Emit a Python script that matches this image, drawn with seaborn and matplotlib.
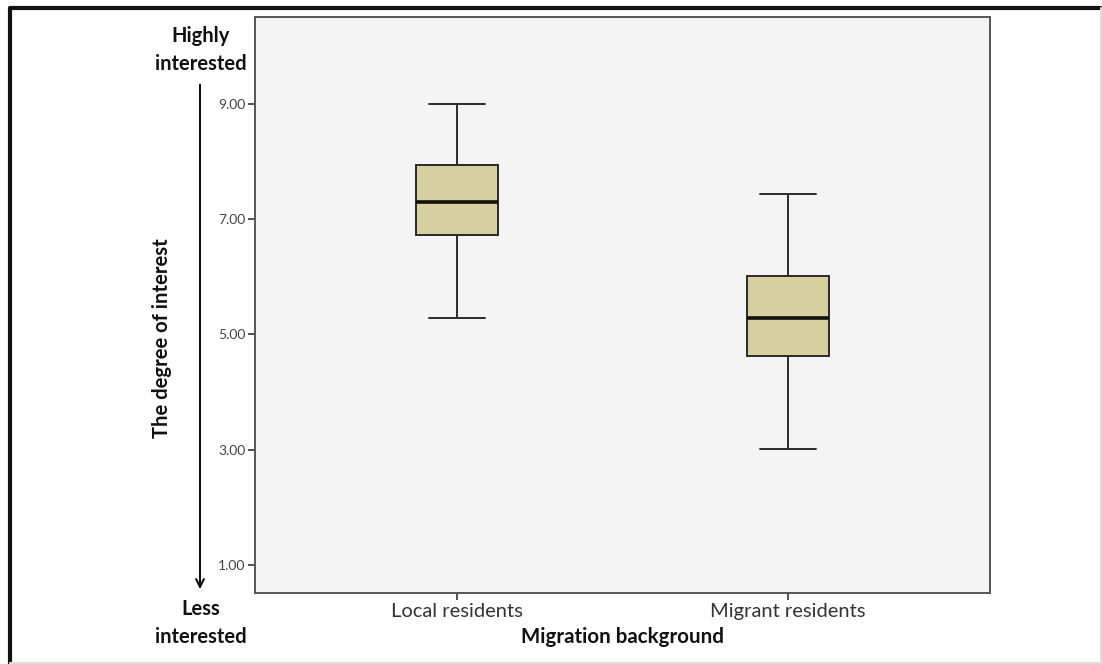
import matplotlib
matplotlib.use("Agg")
import matplotlib.pyplot as plt
import seaborn as sns
import pandas as pd
from matplotlib.lines import Line2D

# Five-number summaries (min, Q1, median, Q3, max)
groups = ["Local residents", "Migrant residents"]
local_stats = [5.28, 6.73, 7.30, 7.94, 9.00]
migrant_stats = [3.01, 4.62, 5.29, 6.01, 7.44]
y_ticks = [1, 3, 5, 7, 9]

sns.set_theme(style="white")
plt.rcParams['font.family'] = ['Lato', 'DejaVu Sans']

df = pd.DataFrame({
    "group": [groups[0]] * len(local_stats) + [groups[1]] * len(migrant_stats),
    "value": local_stats + migrant_stats,
})

fig = plt.figure(figsize=(11.02, 6.64), dpi=100)
fig.patch.set_facecolor("white")
ax = fig.add_axes([0.2314, 0.1069, 0.6670, 0.8675])
ax.set_facecolor("#F4F4F4")

sns.boxplot(data=df, x="group", y="value", order=groups, ax=ax,
            whis=(0, 100), width=0.25, color="#D6CF9F", saturation=1,
            linecolor="#2a2a2a", linewidth=1.4,
            medianprops=dict(color="#111111", linewidth=2.6),
            capwidths=0.17)

ax.set_ylim(0.51, 10.51)
ax.set_xlim(-0.61, 1.61)
ax.set_yticks(y_ticks)
ax.set_yticklabels([f"{v:.2f}" for v in y_ticks], fontsize=10, color="#444444")
ax.set_xticks([0, 1])
ax.set_xticklabels(groups, fontsize=14.5, color="#333333")
ax.tick_params(axis="both", which="major", direction="out", length=5, width=1.2,
               color="#333333", left=True, bottom=True, pad=2)
ax.set_xlabel("Migration background", fontsize=14.8, fontweight="bold",
              color="#111111", labelpad=5)
ax.set_ylabel("")
for s in ax.spines.values():
    s.set_color("#555555")
    s.set_linewidth(1.4)

# Left-side annotations
fig.text(162 / 1102, 1 - 338 / 664, "The degree of interest", rotation=90,
         ha="center", va="center", fontsize=14.6, fontweight="bold", color="#111111")
fig.text(201 / 1102, 1 - 50 / 664, "Highly\ninterested", ha="center", va="center",
         fontsize=14.5, fontweight="bold", color="#111111", linespacing=1.45)
fig.text(201 / 1102, 1 - 623 / 664, "Less\ninterested", ha="center", va="center",
         fontsize=14.5, fontweight="bold", color="#111111", linespacing=1.45)
fig.add_artist(matplotlib.patches.FancyArrowPatch(
    (200 / 1102, 1 - 82 / 664), (200 / 1102, 1 - 592 / 664),
    transform=fig.transFigure, arrowstyle="->", mutation_scale=14,
    color="#111111", linewidth=1.5))

# Outer frame: dark left and top edges, faint right and bottom edges
x0, y1 = 9.5 / 1102, 1 - 8 / 664
x1, y0 = 1 - 1 / 1102, 1 / 664
fig.add_artist(Line2D([x0, x0, x1], [y0, y1, y1], transform=fig.transFigure,
                      color="#111111", linewidth=3))
fig.add_artist(Line2D([x0, x1, x1], [y0, y0, y1], transform=fig.transFigure,
                      color="#DDDDDD", linewidth=1.5))

fig.savefig("out.png", dpi=100)
